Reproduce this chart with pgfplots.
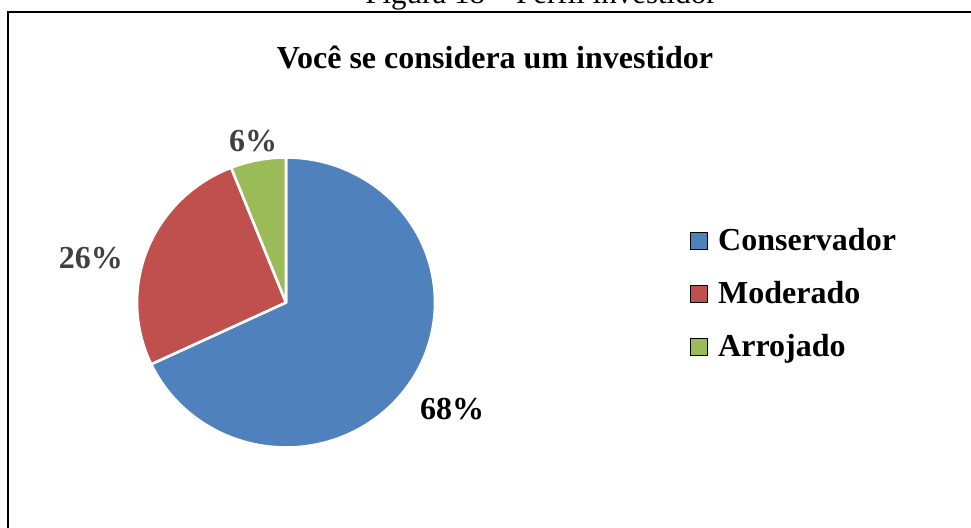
\documentclass[border=0pt]{standalone}
\usepackage{pgfplots}
\usepackage{pgfplotstable}
\pgfplotsset{compat=1.18}
\usepackage{fontspec}
\setmainfont{Liberation Serif}
\definecolor{pblue}{HTML}{4F81BD}
\definecolor{pred}{HTML}{C0504D}
\definecolor{pgreen}{HTML}{9BBB59}
\definecolor{lblgray}{HTML}{404040}

\pgfplotstableread{
label value
Conservador 68
Moderado 26
Arrojado 6
}\piedata

\begin{document}
\begin{tikzpicture}
\pgfplotstablegetelem{0}{value}\of\piedata \let\va\pgfplotsretval
\pgfplotstablegetelem{1}{value}\of\piedata \let\vb\pgfplotsretval
\pgfplotstablegetelem{2}{value}\of\piedata \let\vc\pgfplotsretval
\pgfmathsetmacro\aA{90}
\pgfmathsetmacro\aB{\aA-3.6*\va}
\pgfmathsetmacro\aC{\aB-3.6*\vb}
\pgfmathsetmacro\aD{\aC-3.6*\vc}
\begin{axis}[
  name=ax,
  width=485.5pt, height=264pt, scale only axis,
  xmin=0, xmax=971, ymin=0, ymax=528,
  hide axis, clip=false,
  legend image code/.code={\fill[#1] (0pt,-4.25pt) rectangle (8.5pt,4.25pt);},
  legend style={at={(axis cs:690,234)}, anchor=west, draw=none, fill=none,
    inner sep=0pt, row sep=10pt,
    font=\fontsize{16}{18}\selectfont\bfseries,
    cells={anchor=west},
    /tikz/every odd column/.append style={column sep=3pt}},
  legend cell align=left,
]
\addlegendimage{fill=pblue}
\addlegendentry{Conservador}
\addlegendimage{fill=pred}
\addlegendentry{Moderado}
\addlegendimage{fill=pgreen}
\addlegendentry{Arrojado}

\filldraw[fill=pblue, draw=white, line width=1.3pt, line join=round]
  (axis cs:286,225.5) -- ++(\aA:74.5pt and 72.5pt) arc[start angle=\aA, end angle=\aB, x radius=74.5pt, y radius=72.5pt] -- cycle;
\filldraw[fill=pred, draw=white, line width=1.3pt, line join=round]
  (axis cs:286,225.5) -- ++(\aB:74.5pt and 72.5pt) arc[start angle=\aB, end angle=\aC, x radius=74.5pt, y radius=72.5pt] -- cycle;
\filldraw[fill=pgreen, draw=white, line width=1.3pt, line join=round]
  (axis cs:286,225.5) -- ++(\aC:74.5pt and 72.5pt) arc[start angle=\aC, end angle=\aD, x radius=74.5pt, y radius=72.5pt] -- cycle;

\node[text=lblgray, font=\fontsize{16}{18}\selectfont\bfseries] at (axis cs:253,387) {\vc\%};
\node[text=lblgray, font=\fontsize{16}{18}\selectfont\bfseries] at (axis cs:91,270) {\vb\%};
\node[text=black, font=\fontsize{16}{18}\selectfont\bfseries] at (axis cs:452,119) {\va\%};

\node[anchor=base, inner sep=0pt, font=\fontsize{16}{18}\selectfont\bfseries] at (axis cs:495,459) {Você se considera um investidor};
\node[anchor=base, inner sep=0pt, font=\fontsize{15.5}{18}\selectfont] at (axis cs:541,524) {Figura 18 – Perfil investidor};

\draw[line width=1.1pt] (axis cs:8,-5) -- (axis cs:8,516) -- (axis cs:980,516);
\end{axis}
\pgfresetboundingbox
\useasboundingbox (ax.south west) rectangle (ax.north east);
\end{tikzpicture}
\end{document}
